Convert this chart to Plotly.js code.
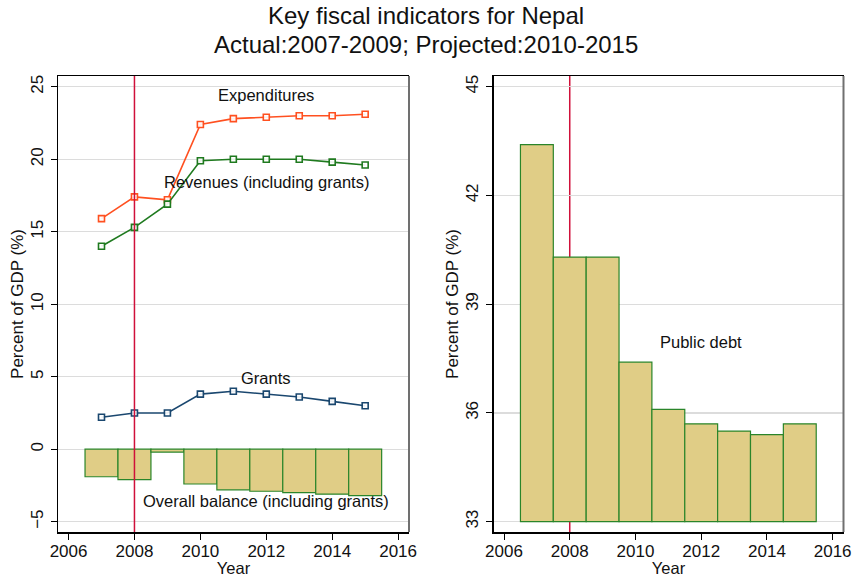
<!DOCTYPE html>
<html>
<head>
<meta charset="utf-8">
<script src="https://cdn.plot.ly/plotly-3.0.1.min.js"></script>
<style>html,body{margin:0;padding:0;background:#fff;}#chart{width:852px;height:577px;}</style>
</head>
<body>
<div id="chart"></div>
<script>
// ---- data ----
const years = [2007, 2008, 2009, 2010, 2011, 2012, 2013, 2014, 2015];
const expenditures = [15.9, 17.4, 17.2, 22.4, 22.8, 22.9, 23.0, 23.0, 23.1];
const revenues = [14.0, 15.3, 16.9, 19.9, 20.0, 20.0, 20.0, 19.8, 19.6];
const grants = [2.2, 2.5, 2.5, 3.8, 4.0, 3.8, 3.6, 3.3, 3.0];
const overallBalance = [-1.9, -2.1, -0.2, -2.4, -2.8, -2.9, -3.0, -3.1, -3.2];
const publicDebt = [43.4, 40.3, 40.3, 37.4, 36.1, 35.7, 35.5, 35.4, 35.7];
const debtBase = 33;
const lastActualMarker = 2008;
const leftTicks = [-5, 0, 5, 10, 15, 20, 25];
const rightTicks = [33, 36, 39, 42, 45];
const xTicks = [2006, 2008, 2010, 2012, 2014, 2016];
const titleLines = ['Key fiscal indicators for Nepal', 'Actual:2007-2009; Projected:2010-2015'];

// ---- styling ----
const FONT = 'Liberation Sans, Arial, Helvetica, sans-serif';
const W = 852, H = 577;
const px = v => v / W;
const py = v => 1 - v / H;
const cExp = '#ff5020';
const cRev = '#1f7a1f';
const cGr = '#1a476f';
const cBarFill = '#e0cd86';
const cBarLine = '#2a852a';
const cRed = '#d0103a';

function lineTrace(y, color, xa, ya) {
  return {
    type: 'scatter', mode: 'lines+markers', x: years, y: y,
    xaxis: xa, yaxis: ya,
    line: {color: color, width: 1.6},
    marker: {symbol: 'square', size: 6, color: 'rgba(255,255,255,0.9)', line: {color: color, width: 1.6}},
    hoverinfo: 'x+y', showlegend: false
  };
}

const traces = [
  {type: 'bar', x: years, y: overallBalance, width: 1, xaxis: 'x', yaxis: 'y',
   marker: {color: cBarFill, line: {color: cBarLine, width: 1.2}}, showlegend: false},
  lineTrace(expenditures, cExp, 'x', 'y'),
  lineTrace(revenues, cRev, 'x', 'y'),
  lineTrace(grants, cGr, 'x', 'y'),
  {type: 'bar', x: years, y: publicDebt.map(v => v - debtBase), base: debtBase, width: 1,
   xaxis: 'x2', yaxis: 'y2',
   customdata: publicDebt, hovertemplate: '%{x}: %{customdata}<extra></extra>',
   marker: {color: cBarFill, line: {color: cBarLine, width: 1.2}}, showlegend: false}
];

const tickFont = {family: FONT, size: 17, color: '#111'};
function xAxis(domain, anchor) {
  return {
    domain: domain, anchor: anchor, range: [2005.68, 2016.33],
    tickmode: 'array', tickvals: xTicks, ticks: 'outside', ticklen: 6, tickcolor: '#000',
    ticklabelstandoff: -3,
    showline: true, linecolor: '#000', linewidth: 1.5, mirror: true,
    showgrid: false, zeroline: false, tickfont: tickFont,
    title: {text: 'Year', font: {family: FONT, size: 16.5, color: '#111'}, standoff: 0}
  };
}
function yAxis(domain, anchor, range, ticks) {
  return {
    domain: domain, anchor: anchor, range: range,
    tickmode: 'array', tickvals: ticks, ticks: 'outside', ticklen: 6, tickcolor: '#000',
    tickangle: -90, ticklabelstandoff: 1,
    showline: true, linecolor: '#000', linewidth: 1.5,
    showgrid: true, gridcolor: '#dcdcdc', gridwidth: 1.3, zeroline: false, tickfont: tickFont,
    title: {text: 'Percent of GDP (%)', font: {family: FONT, size: 17, color: '#111'}, standoff: 0}
  };
}

const yDom = [py(532), py(76)];
const annFont = {family: FONT, size: 16.5, color: '#111'};
const titleFont = {family: FONT, size: 24, color: '#111'};
const layout = {
  width: W, height: H,
  margin: {l: 0, r: 0, t: 0, b: 0},
  paper_bgcolor: '#fff', plot_bgcolor: '#fff',
  showlegend: false, barmode: 'overlay',
  xaxis: xAxis([px(58), px(409)], 'y'),
  yaxis: yAxis(yDom, 'x', [-5.71, 25.74], leftTicks),
  xaxis2: xAxis([px(493.5), px(843.5)], 'y2'),
  yaxis2: yAxis(yDom, 'x2', [32.716, 45.295], rightTicks),
  shapes: [
    {type: 'line', xref: 'x', yref: 'y domain', x0: lastActualMarker, x1: lastActualMarker, y0: 0, y1: 1,
     line: {color: cRed, width: 1.5}, layer: 'above'},
    {type: 'line', xref: 'x2', yref: 'y2 domain', x0: lastActualMarker, x1: lastActualMarker, y0: 0, y1: 1,
     line: {color: cRed, width: 1.5}, layer: 'below'},
    {type: 'line', xref: 'x domain', yref: 'y domain', x0: 1, x1: 1, y0: 0, y1: 1,
     line: {color: '#707070', width: 2}, layer: 'above'},
    {type: 'line', xref: 'x2 domain', yref: 'y2 domain', x0: 1, x1: 1, y0: 0, y1: 1,
     line: {color: '#707070', width: 2}, layer: 'above'}
  ],
  annotations: [
    {text: titleLines[0], xref: 'paper', yref: 'paper', x: 0.5, y: py(30),
     xanchor: 'center', yanchor: 'bottom', showarrow: false, font: titleFont, borderpad: 0},
    {text: titleLines[1], xref: 'paper', yref: 'paper', x: 0.5, y: py(30),
     xanchor: 'center', yanchor: 'top', showarrow: false, font: titleFont, borderpad: 0},
    {text: 'Expenditures', xref: 'x', yref: 'y', x: 2012, y: 24.4, showarrow: false, font: annFont},
    {text: 'Revenues (including grants)', xref: 'x', yref: 'y', x: 2012, y: 18.4, showarrow: false, font: annFont},
    {text: 'Grants', xref: 'x', yref: 'y', x: 2012, y: 4.9, showarrow: false, font: annFont},
    {text: 'Overall balance (including grants)', xref: 'x', yref: 'y', x: 2012, y: -3.58, showarrow: false, font: annFont},
    {text: 'Public debt', xref: 'x2', yref: 'y2', x: 2012, y: 37.95, showarrow: false, font: annFont}
  ]
};

Plotly.newPlot('chart', traces, layout, {displayModeBar: false, staticPlot: true});
</script>
</body>
</html>
